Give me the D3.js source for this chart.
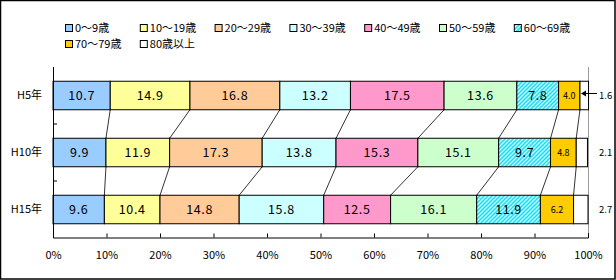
<!DOCTYPE html>
<html>
<head>
<meta charset="utf-8">
<script src="https://cdn.jsdelivr.net/npm/d3@7"></script>
<style>
  body { margin: 0; background: #fff; }
  svg { display: block; font-family: "Noto Sans CJK JP", "DejaVu Sans", sans-serif; }
</style>
</head>
<body>
<div id="chart"></div>
<script>
// データ / data
const years = ["H5年", "H10年", "H15年"];
const ageGroups = ["0～9歳", "10～19歳", "20～29歳", "30～39歳", "40～49歳", "50～59歳", "60～69歳", "70～79歳", "80歳以上"];
const valuesH5 = [10.7, 14.9, 16.8, 13.2, 17.5, 13.6, 7.8, 4.0, 1.6];
const valuesH10 = [9.9, 11.9, 17.3, 13.8, 15.3, 15.1, 9.7, 4.8, 2.1];
const valuesH15 = [9.6, 10.4, 14.8, 15.8, 12.5, 16.1, 11.9, 6.2, 2.7];
const xTicks = [0, 10, 20, 30, 40, 50, 60, 70, 80, 90, 100];

const allValues = [valuesH5, valuesH10, valuesH15];
const colors = ["#99CCFF", "#FFFF99", "#FFCC99", "#CCFFFF", "#FF99CC", "#CCFFCC", "url(#hatch)", "#FFCC00", "#FFFFFF"];

const width = 616, height = 280;
const svg = d3.select("#chart").append("svg").attr("width", width).attr("height", height);

// 斜線パターン / hatch pattern
const defs = svg.append("defs");
const pat = defs.append("pattern").attr("id", "hatch").attr("patternUnits", "userSpaceOnUse")
  .attr("width", 4).attr("height", 4);
pat.append("rect").attr("width", 4).attr("height", 4).attr("fill", "#FFFFFF");
pat.append("path").attr("d", "M-1,1 l2,-2 M0,4 l4,-4 M3,5 l2,-2").attr("stroke", "#22DDEE").attr("stroke-width", 1.6);

// 外枠 / outer frame
svg.append("rect").attr("x", 0.5).attr("y", 0.5).attr("width", width - 1.5).attr("height", height - 1.5)
  .attr("fill", "none").attr("stroke", "#000").attr("stroke-width", 1.5);

const x = d3.scaleLinear().domain([0, 100]).range([53, 588]);
const y = d3.scaleBand().domain(years).range([67, 238]).paddingInner(0.5).paddingOuter(0.25);

// 累積値 / stacked segments
const stacked = allValues.map((vals, r) => {
  let acc = 0;
  return vals.map((v, i) => {
    const seg = { year: years[r], i, v, x0: acc, x1: acc + v };
    acc += v;
    return seg;
  });
});

// 右側の枠線 / plot right border
svg.append("line").attr("x1", 588.5).attr("x2", 588.5).attr("y1", 67).attr("y2", 238)
  .attr("stroke", "#999").attr("stroke-width", 1);

// 系列線 / connector lines
const gConn = svg.append("g").attr("stroke", "#000").attr("stroke-width", 0.8);
for (let r = 0; r < stacked.length - 1; r++) {
  for (let i = 0; i < ageGroups.length - 1; i++) {
    gConn.append("line")
      .attr("x1", x(stacked[r][i].x1)).attr("y1", y(years[r]) + y.bandwidth())
      .attr("x2", x(stacked[r + 1][i].x1)).attr("y2", y(years[r + 1]));
  }
}

// 棒 / bars
const gBars = svg.append("g");
stacked.forEach(row => {
  gBars.selectAll(null).data(row).enter().append("rect")
    .attr("x", d => x(d.x0))
    .attr("y", d => y(d.year))
    .attr("width", d => x(d.x1) - x(d.x0))
    .attr("height", y.bandwidth())
    .attr("fill", d => colors[d.i])
    .attr("stroke", "#000").attr("stroke-width", 1);

  // ラベル / labels
  gBars.selectAll(null).data(row.filter(d => d.i < 8)).enter().append("text")
    .attr("x", d => (x(d.x0) + x(d.x1)) / 2)
    .attr("y", d => y(d.year) + y.bandwidth() / 2)
    .attr("dy", "0.36em")
    .attr("text-anchor", "middle")
    .attr("font-size", d => d.i === 7 ? "9px" : "12.5px")
    .attr("letter-spacing", d => d.i === 7 ? "0" : "0.6px")
    .attr("fill", "#000")
    .text(d => d.v.toFixed(1));

  const last = row[8];
  gBars.append("text")
    .attr("x", 599).attr("y", y(last.year) + y.bandwidth() / 2)
    .attr("dy", "0.36em").attr("font-size", "9.5px").attr("fill", "#000")
    .text(last.v.toFixed(1));
});

// 矢印 / arrow for H5 80+
const ay = y(years[0]) + y.bandwidth() / 2 - 2;
svg.append("line").attr("x1", 583).attr("x2", 597).attr("y1", ay).attr("y2", ay).attr("stroke", "#000").attr("stroke-width", 1);
svg.append("path").attr("d", `M581,${ay} l5,-3 l0,6 z`).attr("fill", "#000");

// 軸 / axes
const xAxis = svg.append("g").attr("transform", "translate(0,237.5)")
  .call(d3.axisBottom(x).tickValues(xTicks).tickSize(-4).tickPadding(14).tickFormat(d => d + "%"));
xAxis.select(".domain").attr("stroke", "#000");
xAxis.selectAll(".tick line").attr("stroke", "#000");
xAxis.selectAll("text").attr("font-size", "11px").attr("fill", "#000").attr("font-family", "\"Noto Sans CJK JP\", sans-serif");

svg.append("line").attr("x1", 53.5).attr("x2", 53.5).attr("y1", 67).attr("y2", 238).attr("stroke", "#000");
[1, 2].forEach(k => {
  const ty = y(years[k]) - y.step() * y.paddingInner() / 2;
  svg.append("line").attr("x1", 53).attr("x2", 57).attr("y1", ty).attr("y2", ty).attr("stroke", "#000");
});
svg.append("g").selectAll("text").data(years).enter().append("text")
  .attr("x", 42).attr("y", d => y(d) + y.bandwidth() / 2).attr("dy", "0.36em")
  .attr("text-anchor", "end").attr("font-size", "11px").attr("fill", "#000")
  .text(d => d);

// 凡例 / legend
const legend = svg.append("g");
ageGroups.forEach((name, i) => {
  const col = i < 7 ? i : i - 7;
  const row = i < 7 ? 0 : 1;
  const lx = 65 + col * 74.8, ly = 28 + row * 16;
  legend.append("rect").attr("x", lx + 0.5).attr("y", ly - 3.5).attr("width", 7).attr("height", 7)
    .attr("fill", colors[i]).attr("stroke", "#000");
  legend.append("text").attr("x", lx + 10).attr("y", ly).attr("dy", "0.36em")
    .attr("font-size", "11px").attr("fill", "#000").text(name);
});
</script>
</body>
</html>
